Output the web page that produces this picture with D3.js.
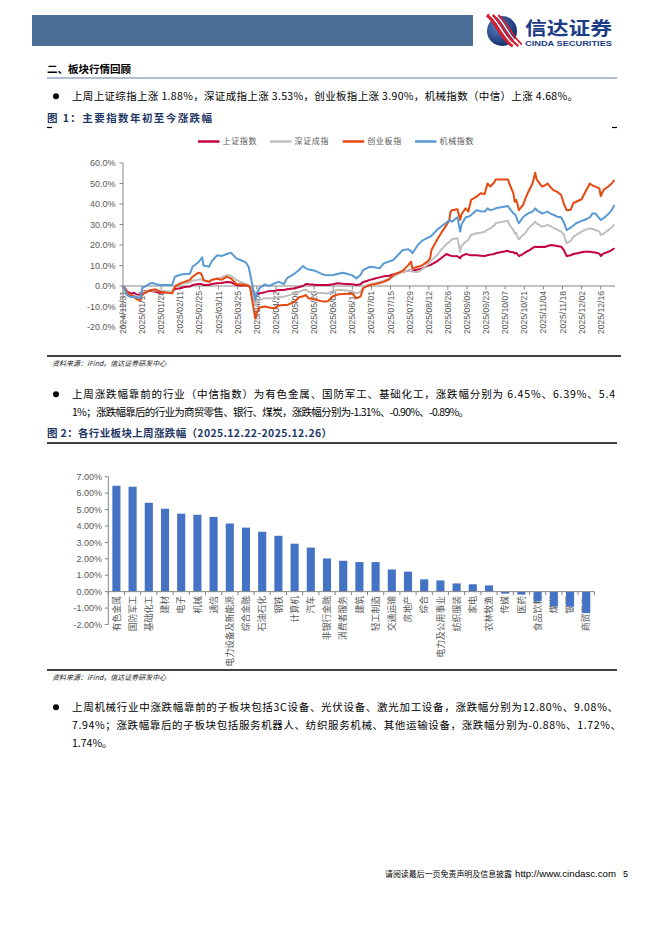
<!DOCTYPE html>
<html><head><meta charset="utf-8">
<script src="https://cdn.jsdelivr.net/npm/d3@7"></script>
<style>body{margin:0;background:#fff}svg{display:block}</style>
</head><body><svg id="page" width="662" height="936"></svg>
<script>
// ---------------- DATA ----------------
const lineDates = ["2024-12-31","2025-01-02","2025-01-03","2025-01-06","2025-01-08","2025-01-10","2025-01-13","2025-01-14","2025-01-16","2025-01-20","2025-01-22","2025-01-24","2025-01-27","2025-02-05","2025-02-07","2025-02-11","2025-02-14","2025-02-18","2025-02-20","2025-02-24","2025-02-26","2025-02-27","2025-02-28","2025-03-04","2025-03-06","2025-03-10","2025-03-13","2025-03-17","2025-03-20","2025-03-24","2025-03-27","2025-03-31","2025-04-02","2025-04-03","2025-04-07","2025-04-08","2025-04-10","2025-04-14","2025-04-17","2025-04-21","2025-04-24","2025-04-28","2025-04-30","2025-05-06","2025-05-09","2025-05-12","2025-05-14","2025-05-16","2025-05-20","2025-05-22","2025-05-26","2025-05-28","2025-05-30","2025-06-03","2025-06-06","2025-06-10","2025-06-13","2025-06-17","2025-06-20","2025-06-23","2025-06-25","2025-06-27","2025-06-30","2025-07-03","2025-07-07","2025-07-10","2025-07-14","2025-07-17","2025-07-21","2025-07-24","2025-07-28","2025-07-30","2025-07-31","2025-08-04","2025-08-07","2025-08-11","2025-08-13","2025-08-14","2025-08-18","2025-08-21","2025-08-25","2025-08-27","2025-08-28","2025-08-29","2025-09-02","2025-09-04","2025-09-05","2025-09-08","2025-09-10","2025-09-12","2025-09-16","2025-09-19","2025-09-22","2025-09-24","2025-09-26","2025-09-29","2025-09-30","2025-10-09","2025-10-10","2025-10-13","2025-10-14","2025-10-15","2025-10-16","2025-10-17","2025-10-20","2025-10-22","2025-10-24","2025-10-27","2025-10-29","2025-10-30","2025-11-03","2025-11-05","2025-11-07","2025-11-10","2025-11-12","2025-11-14","2025-11-17","2025-11-19","2025-11-21","2025-11-24","2025-11-26","2025-11-28","2025-12-02","2025-12-04","2025-12-08","2025-12-10","2025-12-12","2025-12-15","2025-12-16","2025-12-18","2025-12-22","2025-12-24","2025-12-26"];

// 上证指数
const shIndex = [0,-1.5,-2.8,-3.6,-3.3,-4.2,-4.4,-2.8,-2.6,-2.3,-2.6,-2.8,-3.3,-2.8,-1.5,-1.1,-0.5,-0.3,0.5,1,1,0.8,0.5,0.5,1,1.3,1.5,2,1.8,0.5,0.3,0.2,0,-0.3,-5.2,-4,-3.6,-3,-2.5,-2.3,-2,-2,-1.6,-1.1,-0.5,0,1,0.8,0.6,0.5,0.5,0.5,0.5,0.9,1.3,1.1,1,0.8,0.5,0.8,2,2.3,3,3.5,4.2,4.7,5,5.6,6.3,7,7.5,7.8,7.5,8,8.6,9.8,10.2,10.5,12,13.5,15.6,15,14.8,14.6,14.5,13.5,14.6,15.6,15.3,15,15,14.8,14.6,15,15.3,15.6,16,17.2,16.7,16.5,15.9,16.2,15.5,14.6,15.6,16.5,17.2,18.5,19.2,19,19.2,19,19.5,20,19.8,19.5,19.2,17.5,14.6,15,15.6,15.9,16.5,16.7,16.7,16.5,16.3,15.8,14.6,15.8,16.8,17.5,18.4];
// 深证成指
const szIndex = [0,-2,-3.5,-4.4,-4.5,-5,-5.2,-3,-2.8,-2,-2.3,-2.1,-2.3,-2.8,0.3,1,1.3,1.8,2.6,3,3.3,3,2.3,2,2.8,3.7,4.2,5.4,5,3,2,1,0.5,0,-9.3,-7.8,-6.8,-6,-6,-6,-5.5,-5.2,-4.8,-3.6,-2.8,-2,-1.8,-2.8,-3,-3.3,-3.4,-3.5,-3.6,-2.3,-2,-2,-2.2,-2.5,-3.6,-2.8,-0.3,0.3,0.8,1.2,2,2.6,3.5,4.5,6,7,7.5,7.8,7,6.8,8,10.5,11.9,12.5,15,17.5,20.5,21.5,22,22.8,23.3,16.7,19.5,21.6,22.5,24.9,25.7,26,26.5,27.5,28.1,29.5,30.6,31.9,30,27.3,25.5,26,24,22.8,24.9,26,28.1,30,31.4,30.5,29,29.3,29.8,28.9,28.1,27.5,26.5,25,20.8,22,24,24.9,26.5,27.3,28.1,27.8,27.3,26.5,24.9,25.5,27.5,28.5,30];
// 创业板指
const cyIndex = [0,-2,-3.6,-4.5,-5.2,-6.5,-6.8,-4,-3.5,-2,-1.8,-1.6,-2.8,-3.6,-0.3,1.3,2,3,4.5,6.5,6.2,5,3,2,3,3.5,3,4.5,3.7,1,0.8,0.5,0,-0.6,-15.8,-13,-10.5,-10,-10.5,-10.9,-9.5,-9.3,-9.3,-7.6,-5.5,-5,-4.4,-6,-6.5,-6.8,-7.5,-7.6,-7.4,-5,-4.2,-3.9,-3.8,-3.6,-6,-5.2,-1.1,-0.3,0.5,0.8,1.5,2,3.3,5.4,6.5,7.5,10.2,11.9,8.6,9.4,10,11.9,13.5,17.6,22.4,25.7,29.8,32,36.3,37,37.4,32.2,35,37.9,36.3,42,43.6,45.2,44.9,50,48.5,50.5,52,52,50,45.2,41.1,42,40,37,39.5,43,46,50,55.3,52,48.5,49,50,47.6,46.5,46,44.4,40,37,37.2,40.5,41.1,42.3,45,50,49,48.5,47.6,43.9,46.8,48.8,50,51.7];
// 机械指数
const jxIndex = [0,-3,-4.5,-5.5,-5.2,-5.5,-6,-1,-0.3,1.3,1.5,0.8,0.5,0.5,4.5,5.5,5.9,6,9.4,11.5,13,14,10,9.4,12,15,14.6,15.6,16.3,13.5,12.7,11.5,9.4,6.2,-6.8,-3.6,-1,0.8,0,1.3,2,1,3.7,6.2,7.8,9.8,8.6,8,7.6,7,5.8,5.4,5.2,5.4,5.9,6.5,6,5.2,3.7,5.4,7.8,8.5,9.4,9.2,8.6,11,12,12.7,15.5,17.6,17.9,17,16,20,22,23.5,24,24.5,27.3,29,31,32.2,31.8,31.4,33.5,26.5,30,33.5,33.8,34.6,37,36.5,36.3,37.9,37,37.5,37.9,39,38,35.4,35,34,32,30.6,33.5,34.6,35.5,36.3,37.9,37,35.4,35.8,36.3,35,34.6,33.8,33.5,31,27.3,28.5,29.5,30.6,31.8,32.2,33.5,35.4,35.4,33,32.2,33,35.4,37,39.5];

const seriesNames = ["上证指数","深证成指","创业板指","机械指数"];
const seriesColors = ["#C4003E","#BFBFBF","#E64810","#5A9AD4"];
const yTicks1 = [-20,-10,0,10,20,30,40,50,60];
const xTickLabels1 = ["2024/12/31","2025/01/14","2025/01/28","2025/02/11","2025/02/25","2025/03/11","2025/03/25","2025/04/08","2025/04/22","2025/05/06","2025/05/20","2025/06/03","2025/06/17","2025/07/01","2025/07/15","2025/07/29","2025/08/12","2025/08/26","2025/09/09","2025/09/23","2025/10/07","2025/10/21","2025/11/04","2025/11/18","2025/12/02","2025/12/16"];

const industries = ["有色金属","国防军工","基础化工","建材","电子","机械","通信","电力设备及新能源","综合金融","石油石化","钢铁","计算机","汽车","非银行金融","消费者服务","建筑","轻工制造","交通运输","房地产","综合","电力及公用事业","纺织服装","家电","农林牧渔","传媒","医药","食品饮料","煤炭","银行","商贸零售"];
const industryChange = [6.45,6.39,5.41,5.05,4.75,4.68,4.55,4.15,3.90,3.65,3.40,2.92,2.68,2.02,1.88,1.80,1.80,1.35,1.22,0.75,0.68,0.50,0.45,0.38,-0.12,-0.18,-0.58,-0.89,-0.90,-1.31];
const yTicks2 = [-2,-1,0,1,2,3,4,5,6,7];

// ---------------- DRAW ----------------
const svg = d3.select("#page");
const CJK = "'Noto Sans CJK SC','Noto Sans',sans-serif";
const LAT = "'Liberation Sans',Arial,sans-serif";
svg.append("rect").attr("width",662).attr("height",936).attr("fill","#fff");

// header
svg.append("rect").attr("x",32).attr("y",15).attr("width",441).attr("height",31).attr("fill","#4B6E97");
const defs = svg.append("defs");
const rg = defs.append("radialGradient").attr("id","lg").attr("cx","35%").attr("cy","35%").attr("r","70%");
rg.append("stop").attr("offset","0%").attr("stop-color","#5a7fc0");
rg.append("stop").attr("offset","100%").attr("stop-color","#0f2c6b");
defs.append("clipPath").attr("id","lc").append("rect").attr("x",482).attr("y",12).attr("width",40).attr("height",38);
svg.append("circle").attr("cx",502).attr("cy",31).attr("r",15).attr("fill","url(#lg)");
const logoG = svg.append("g").attr("clip-path","url(#lc)");
[["#d41f2f",3.5],["#ffffff",1.4],["#d41f2f",2.4],["#ffffff",1.1],["#d41f2f",1.8]].forEach((s,i)=>{
  const o = i*2.8;
  logoG.append("path").attr("d",`M${487+o},${15} C${497+o},${22} ${500+o},${38} ${513+o},${46}`)
    .attr("fill","none").attr("stroke",s[0]).attr("stroke-width",s[1]);
});
svg.append("text").attr("x",525).attr("y",34.5).attr("font-family",CJK).attr("font-weight",700)
  .attr("font-size",18.5).attr("fill","#1C3C86").attr("textLength",87).attr("lengthAdjust","spacingAndGlyphs").text("信达证券");
svg.append("text").attr("x",525).attr("y",46).attr("font-family",LAT).attr("font-weight",700)
  .attr("font-size",7.2).attr("fill","#1C3C86").attr("textLength",87).attr("lengthAdjust","spacingAndGlyphs").text("CINDA SECURITIES");

// helpers
function bodyText(x,y,str,len,opt={}){
  const t = svg.append("text").attr("x",x).attr("y",y).attr("font-family",CJK)
    .attr("font-size",opt.size||10.5).attr("fill",opt.fill||"#000").text(str);
  if(opt.bold) t.attr("font-weight",700);
  if(opt.italic) t.attr("font-style","italic");
  if(len) t.attr("textLength",len).attr("lengthAdjust","spacing");
  return t;
}
function bullet(y){ svg.append("circle").attr("cx",56).attr("cy",y-3.8).attr("r",3).attr("fill","#000"); }
function rule(y,x1,x2,w){ svg.append("line").attr("x1",x1).attr("x2",x2).attr("y1",y).attr("y2",y).attr("stroke","#000").attr("stroke-width",w||1.2); }

bodyText(47,73,"二、板块行情回顾",null,{bold:true,size:10.5});
svg.append("line").attr("x1",47).attr("x2",617).attr("y1",78).attr("y2",78).attr("stroke","#3a5a8a").attr("stroke-width",0.8);

bullet(100);
bodyText(72,100,"上周上证综指上涨 1.88%，深证成指上涨 3.53%，创业板指上涨 3.90%，机械指数（中信）上涨 4.68%。",506);
bodyText(47,122,"图 1：主要指数年初至今涨跌幅",165,{bold:true,size:10.5,fill:"#1F3864"});
rule(127.5,47,52,1.2); rule(127.5,612,617,1.2);

// ---------- Chart 1 ----------
const parse = d3.timeParse("%Y-%m-%d");
const parseTick = d3.timeParse("%Y/%m/%d");
const x1 = d3.scaleTime().domain([parse("2024-12-31"),parse("2025-12-26")]).range([123,614.4]);
const y1 = d3.scaleLinear().domain([-20,60]).range([327,163]);
const c1 = svg.append("g");
c1.append("line").attr("x1",123).attr("x2",123).attr("y1",y1(60)).attr("y2",y1(-20)).attr("stroke","#868686").attr("stroke-width",1);
c1.selectAll(".yt1").data(yTicks1).join("line").attr("x1",119.5).attr("x2",123).attr("y1",d=>y1(d)).attr("y2",d=>y1(d)).attr("stroke","#868686");
c1.selectAll(".yl1").data(yTicks1).join("text").attr("x",115.5).attr("y",d=>y1(d)).attr("dy","0.35em")
  .attr("text-anchor","end").attr("font-family",LAT).attr("font-size",9).attr("fill","#595959").text(d=>d.toFixed(1)+"%");
c1.selectAll(".xl1").data(xTickLabels1).join("text")
  .attr("transform",d=>`translate(${x1(parseTick(d))+3},${291}) rotate(-90)`)
  .attr("text-anchor","end").attr("font-family",LAT).attr("font-size",8.6).attr("fill","#595959").text(d=>d);
c1.selectAll(".xt1").data(xTickLabels1).join("line").attr("x1",d=>x1(parseTick(d))).attr("x2",d=>x1(parseTick(d)))
  .attr("y1",y1(0)).attr("y2",y1(0)+3.5).attr("stroke","#868686");
c1.append("line").attr("x1",123).attr("x2",615).attr("y1",y1(0)).attr("y2",y1(0)).attr("stroke","#868686").attr("stroke-width",1);
const allSeries = [shIndex,szIndex,cyIndex,jxIndex];
const lineGen = d3.line().x((d,i)=>x1(parse(lineDates[i]))).y(d=>y1(d)).curve(d3.curveLinear);
allSeries.forEach((s,k)=>{
  c1.append("path").datum(s).attr("d",lineGen).attr("fill","none").attr("stroke",seriesColors[k])
    .attr("stroke-width",2).attr("stroke-linejoin","round");
});
const legX = [198,270,342.7,415];
seriesNames.forEach((n,k)=>{
  c1.append("line").attr("x1",legX[k]).attr("x2",legX[k]+21.5).attr("y1",141.5).attr("y2",141.5).attr("stroke",seriesColors[k]).attr("stroke-width",2.5);
  c1.append("text").attr("x",legX[k]+24.5).attr("y",141.5).attr("dy","0.35em").attr("font-family",CJK).attr("font-size",8)
    .attr("fill","#595959").attr("textLength",34).attr("lengthAdjust","spacing").text(n);
});
rule(356,47,621,1.5);
bodyText(52,366,"资料来源：iFind，信达证券研发中心",null,{size:7,italic:true,fill:"#222"});

// bullet 2
bullet(398);
bodyText(72,398,"上周涨跌幅靠前的行业（中信指数）为有色金属、国防军工、基础化工，涨跌幅分别为 6.45%、6.39%、5.4",543);
bodyText(72,416,"1%；涨跌幅靠后的行业为商贸零售、银行、煤炭，涨跌幅分别为-1.31%、-0.90%、-0.89%。",397);
bodyText(47,437,"图 2：各行业板块上周涨跌幅（2025.12.22-2025.12.26）",285,{bold:true,size:10.5,fill:"#1F3864"});
rule(443,47,617,1.5);

// ---------- Chart 2 ----------
const x2 = d3.scaleBand().domain(industries).range([108.3,594.3]).paddingInner(0.5).paddingOuter(0.25);
const y2 = d3.scaleLinear().domain([-2,7]).range([624.5,476.7]);
const c2 = svg.append("g");
c2.append("line").attr("x1",108.3).attr("x2",108.3).attr("y1",y2(7)).attr("y2",y2(-2)).attr("stroke","#868686");
c2.selectAll(".yt2").data(yTicks2).join("line").attr("x1",104.8).attr("x2",108.3).attr("y1",d=>y2(d)).attr("y2",d=>y2(d)).attr("stroke","#868686");
c2.selectAll(".yl2").data(yTicks2).join("text").attr("x",102).attr("y",d=>y2(d)).attr("dy","0.35em")
  .attr("text-anchor","end").attr("font-family",LAT).attr("font-size",9).attr("fill","#595959").text(d=>d.toFixed(2)+"%");
c2.selectAll(".xl2").data(industries).join("text")
  .attr("transform",d=>`translate(${x2(d)+x2.bandwidth()/2+3.2},${596}) rotate(-90)`)
  .attr("text-anchor","end").attr("font-family",CJK).attr("font-size",8.8).attr("fill","#595959").text(d=>d);
c2.selectAll(".bar").data(industries).join("rect")
  .attr("x",d=>x2(d)).attr("width",x2.bandwidth())
  .attr("y",(d,i)=>y2(Math.max(0,industryChange[i])))
  .attr("height",(d,i)=>Math.abs(y2(industryChange[i])-y2(0)))
  .attr("fill","#4472C4");
const step = x2.step();
c2.selectAll(".xt2").data(d3.range(industries.length+1)).join("line")
  .attr("x1",i=>108.3+i*step).attr("x2",i=>108.3+i*step).attr("y1",y2(0)).attr("y2",y2(0)+3.5).attr("stroke","#868686");
c2.append("line").attr("x1",108.3).attr("x2",594.3).attr("y1",y2(0)).attr("y2",y2(0)).attr("stroke","#868686");
rule(670,47,617,1.5);
bodyText(52,680,"资料来源：iFind，信达证券研发中心",null,{size:7,italic:true,fill:"#222"});

// bullet 3
bullet(711);
bodyText(72,711,"上周机械行业中涨跌幅靠前的子板块包括3C设备、光伏设备、激光加工设备，涨跌幅分别为12.80%、9.08%、",546);
bodyText(72,729,"7.94%；涨跌幅靠后的子板块包括服务机器人、纺织服务机械、其他运输设备，涨跌幅分别为-0.88%、1.72%、",549);
bodyText(72,747,"1.74%。");

// footer
svg.append("text").attr("x",385).attr("y",877).attr("font-family",CJK).attr("font-size",8).attr("fill","#000")
  .attr("textLength",127).attr("lengthAdjust","spacingAndGlyphs").text("请阅读最后一页免责声明及信息披露");
svg.append("text").attr("x",515).attr("y",877).attr("font-family",LAT).attr("font-size",9).attr("fill","#000")
  .attr("textLength",101).attr("lengthAdjust","spacingAndGlyphs").text("http://www.cindasc.com");
svg.append("text").attr("x",623).attr("y",877).attr("font-family",LAT).attr("font-size",9).attr("fill","#000").text("5");
</script></body></html>
